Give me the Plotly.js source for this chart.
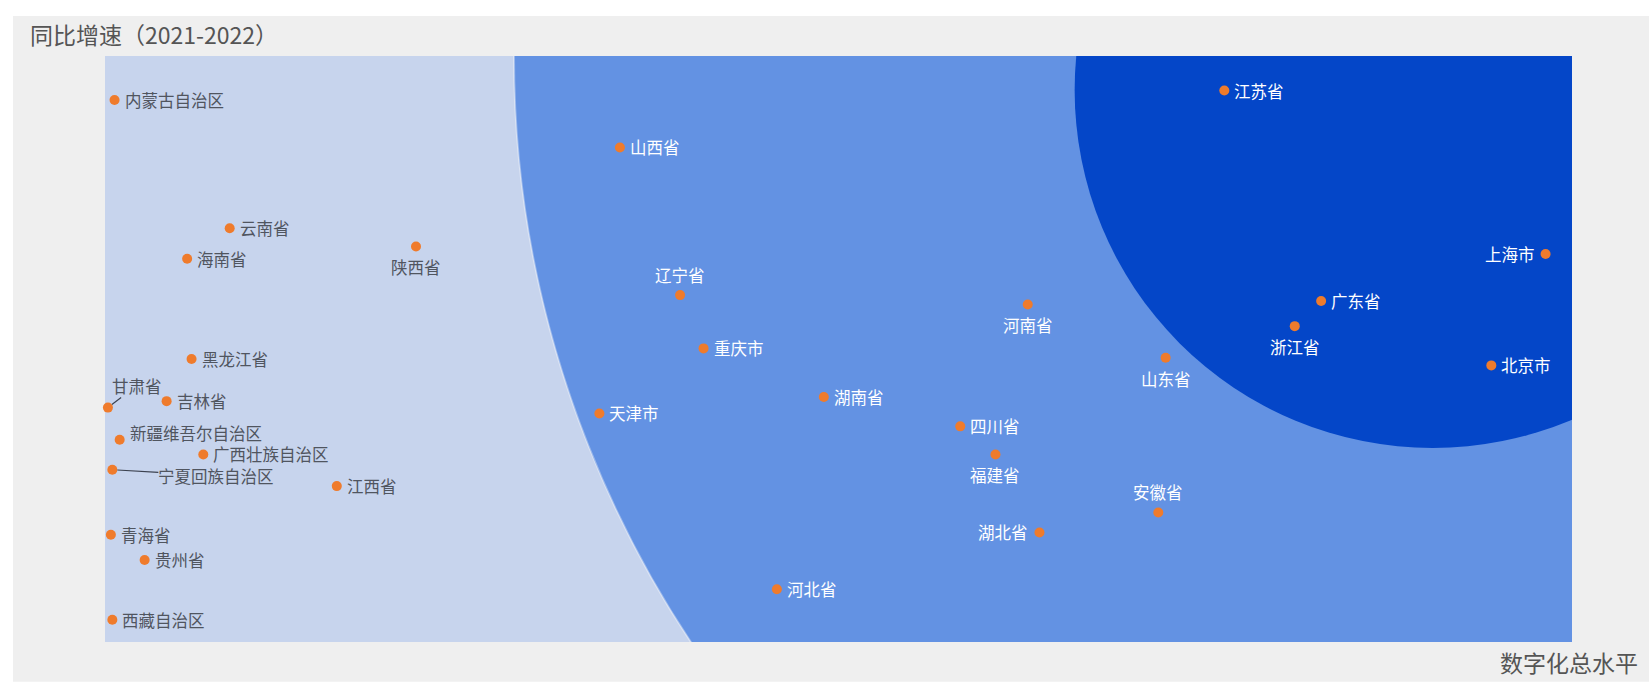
<!DOCTYPE html>
<html>
<head>
<meta charset="utf-8">
<script src="https://cdn.plot.ly/plotly-3.0.1.min.js"></script>
<style>html,body{margin:0;padding:0;background:#ffffff;}#chart{width:1649px;height:689px;}</style>
</head>
<body>
<div id="chart"></div>
<script>
// Province names
const provinces = ['内蒙古自治区','云南省','海南省','陕西省','黑龙江省','甘肃省','吉林省','新疆维吾尔自治区','广西壮族自治区','宁夏回族自治区','江西省','青海省','贵州省','西藏自治区','山西省','辽宁省','河南省','重庆市','天津市','湖南省','四川省','福建省','湖北省','河北省','江苏省','上海市','广东省','浙江省','山东省','北京市','安徽省'];
// 数字化总水平 (x, relative index 0-100)
const digitalLevel = [0.65,8.5,5.6,21.2,5.9,0.2,4.2,1.0,6.7,0.5,15.8,0.4,2.7,0.5,35.1,39.2,62.9,40.8,33.7,49.0,58.3,60.7,63.7,45.8,76.3,98.2,82.9,81.1,72.3,94.5,71.8];
// 同比增速 2021-2022 (y, relative index 0-100)
const yoyGrowth = [92.5,70.6,65.4,67.5,48.3,40.0,41.1,34.5,32.0,29.4,26.6,18.3,14.0,3.8,84.4,59.2,57.6,50.1,39.0,41.8,36.8,32.0,18.7,9.0,94.1,66.2,58.2,53.9,48.5,47.2,22.1];

// label placement (style only)
const labelPos = {'陕西省':'bottom','辽宁省':'top','河南省':'bottom','福建省':'bottom','湖北省':'left','上海市':'left','浙江省':'bottom','山东省':'bottom','安徽省':'top'};
const labelYShift = {'新疆维吾尔自治区':7, '广西壮族自治区':0};
const grayLabels = new Set(['内蒙古自治区','云南省','海南省','陕西省','黑龙江省','甘肃省','吉林省','新疆维吾尔自治区','广西壮族自治区','宁夏回族自治区','江西省','青海省','贵州省','西藏自治区']);
const leaderLabels = {'甘肃省':[29,-22],'宁夏回族自治区':[104,6]};

const FONT = '"Noto Sans CJK SC","Noto Sans",sans-serif';
const LABEL_SIZE = 16.5;

const trace = {
  type:'scatter', mode:'markers',
  x: digitalLevel, y: yoyGrowth,
  marker: {color:'#ef7b2c', size:10, line:{width:0}},
  cliponaxis: false, hoverinfo:'text', hovertext: provinces, showlegend:false
};

const annotations = [];
provinces.forEach((p,i) => {
  const color = grayLabels.has(p) ? '#50555f' : '#ffffff';
  const base = {x: digitalLevel[i], y: yoyGrowth[i], xref:'x', yref:'y', text:p,
    font:{family:FONT,size:LABEL_SIZE,color:color}, borderpad:0, borderwidth:0};
  if (leaderLabels[p]) {
    annotations.push(Object.assign(base, {showarrow:true, arrowhead:0, arrowwidth:1.2, arrowcolor:'#3c4250',
      ax: leaderLabels[p][0], ay: leaderLabels[p][1], standoff:5}));
    return;
  }
  const pos = labelPos[p] || 'right';
  const a = Object.assign(base, {showarrow:false});
  if (pos === 'right') { a.xanchor='left'; a.yanchor='middle'; a.xshift=10; }
  else if (pos === 'left') { a.xanchor='right'; a.yanchor='middle'; a.xshift=-11; }
  else if (pos === 'bottom') { a.xanchor='center'; a.yanchor='top'; a.yshift=-9; }
  else if (pos === 'top') { a.xanchor='center'; a.yanchor='bottom'; a.yshift=8; }
  a.yshift = (a.yshift || 0) + (labelYShift[p] || 0);
  annotations.push(a);
});
annotations.push({xref:'paper', yref:'paper', x:1.0463, y:-0.0341, xanchor:'right', yanchor:'middle',
  text:'数字化总水平', showarrow:false, font:{family:FONT,size:23,color:'#555555'}});

const layout = {
  width:1649, height:689, autosize:false,
  margin:{l:105, r:77, t:56, b:47, pad:0},
  paper_bgcolor:'#efefef', plot_bgcolor:'#c7d4ed',
  title:{text:'同比增速（2021-2022）', xref:'container', yref:'container', x:0.0182, xanchor:'left', y:0.9478, yanchor:'middle',
    font:{family:FONT, size:23, color:'#555555'}},
  xaxis:{range:[0,100], showgrid:false, zeroline:false, showticklabels:false, showline:false, ticks:'', fixedrange:true},
  yaxis:{range:[0,100], showgrid:false, zeroline:false, showticklabels:false, showline:false, ticks:'', fixedrange:true},
  shapes:[
    {type:'rect', xref:'paper', yref:'paper', x0:-0.08, x1:1.06, y0:1.0683, y1:1.1, fillcolor:'#ffffff', line:{width:0}, layer:'below'},
    {type:'rect', xref:'paper', yref:'paper', x0:-0.08, x1:-0.0627, y0:-0.09, y1:1.1, fillcolor:'#ffffff', line:{width:0}, layer:'below'},
    {type:'rect', xref:'paper', yref:'paper', x0:-0.08, x1:1.06, y0:-0.09, y1:-0.068, fillcolor:'#ffffff', line:{width:0}, layer:'below'},
    {type:'circle', xref:'x', yref:'y', xsizemode:'pixel', ysizemode:'pixel', xanchor:100, yanchor:100,
      x0:-1058, x1:1058, y0:-1058, y1:1058, fillcolor:'#6392e3', line:{color:'rgba(255,255,255,0.35)', width:2}, layer:'below'},
    {type:'circle', xref:'x', yref:'y', xsizemode:'pixel', ysizemode:'pixel', xanchor:90.5, yanchor:94.2,
      x0:-358, x1:358, y0:-358, y1:358, fillcolor:'#0446c8', line:{width:0}, layer:'below'}
  ],
  annotations: annotations,
  font:{family:FONT}
};

Plotly.newPlot('chart', [trace], layout, {displayModeBar:false, staticPlot:true});
</script>
</body>
</html>
